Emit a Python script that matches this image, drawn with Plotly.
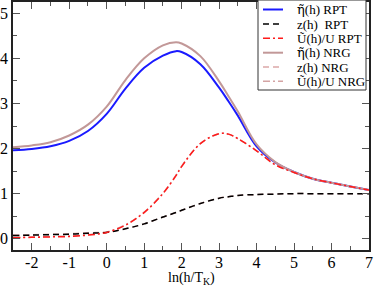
import plotly.graph_objects as go

x = [-2.5, -2.0, -1.5, -1.0, -0.5, 0.0, 0.5, 1.0, 1.5, 1.85, 2.0, 2.5, 3.0, 3.25, 3.5, 4.0, 4.5, 5.0, 5.5, 6.0, 6.5, 7.0]

eta_rpt = [1.96, 1.99, 2.05, 2.17, 2.39, 2.77, 3.33, 3.79, 4.06, 4.16, 4.14, 3.87, 3.35, 3.05, 2.73, 2.05, 1.69, 1.48, 1.33, 1.24, 1.16, 1.08]
z_rpt = [0.07, 0.08, 0.09, 0.10, 0.12, 0.14, 0.22, 0.33, 0.48, 0.58, 0.63, 0.78, 0.90, 0.93, 0.96, 0.98, 0.99, 1.00, 1.00, 1.00, 1.00, 1.00]
u_rpt = [0.02, 0.03, 0.04, 0.05, 0.08, 0.14, 0.30, 0.58, 1.00, 1.40, 1.60, 2.11, 2.33, 2.32, 2.22, 1.95, 1.64, 1.47, 1.33, 1.24, 1.16, 1.08]

eta_nrg = [2.03, 2.07, 2.14, 2.29, 2.53, 2.93, 3.52, 4.00, 4.29, 4.36, 4.33, 4.05, 3.49, 3.16, 2.82, 2.09, 1.70, 1.48, 1.33, 1.24, 1.16, 1.08]
z_nrg = [0.08, 0.09, 0.10, 0.11, 0.13, 0.15, 0.22, 0.33, 0.48, 0.58, 0.63, 0.78, 0.90, 0.93, 0.96, 0.98, 0.99, 1.00, 1.00, 1.00, 1.00, 1.00]
u_nrg = [0.03, 0.04, 0.05, 0.06, 0.09, 0.15, 0.31, 0.59, 1.01, 1.41, 1.61, 2.11, 2.33, 2.32, 2.22, 1.95, 1.64, 1.47, 1.33, 1.24, 1.16, 1.08]

names = ["η̃(h) RPT", "z(h)  RPT", "Ũ(h)/U RPT", "η̃(h) NRG", "z(h) NRG", "Ũ(h)/U NRG"]

x_ticks = [-2, -1, 0, 1, 2, 3, 4, 5, 6, 7]
x_ticktext = ["-2", "-1", "0", "1", "2", "3", "4", "5", "6", "7"]
y_ticks = [0, 1, 2, 3, 4, 5]
y_ticktext = ["0", "1", "2", "3", "4", "5"]

DASH = "6px,4px"
DASHDOT = "7px,3px,2px,3px"
series = [
    (eta_rpt, "#1a1aff", "solid", 2),
    (z_rpt, "#000000", DASH, 1.5),
    (u_rpt, "#ff1a1a", DASHDOT, 1.5),
    (eta_nrg, "#c29898", "solid", 2),
    (z_nrg, "#dba8a8", DASH, 1.5),
    (u_nrg, "#d4a4a4", DASHDOT, 1.5),
]
draw_order = [0, 3, 4, 5, 1, 2]

W, H = 374, 286
ML, MR, MT, MB = 13, 5, 2, 36
PW, PH = W - ML - MR, H - MT - MB


def px(xp):
    return (xp - ML) / PW


def py(yp):
    return (H - MB - yp) / PH


def label_html(name):
    # render the combining-tilde glyph in a font that positions the mark over its base letter
    if name.startswith("η̃"):
        return '<span style="font-family:DejaVu Serif">η̃</span>' + name[2:]
    return name


fig = go.Figure()
for i in draw_order:
    ys, col, dash, w = series[i]
    fig.add_trace(go.Scatter(x=x, y=ys, mode="lines", name=names[i], showlegend=False,
                             line=dict(color=col, dash=dash, width=w, shape="spline", smoothing=1.0)))

serif = "Liberation Serif"
axis_common = dict(
    showgrid=False, zeroline=False, showline=True, linecolor="#222222", linewidth=1.5,
    mirror="allticks", ticks="inside", ticklen=7, tickwidth=1, tickcolor="#555555",
    tickfont=dict(family=serif, size=16, color="black"), automargin=False,
    ticklabeloverflow="allow",
)
fig.update_xaxes(range=[-2.5, 7], tickvals=x_ticks, ticktext=x_ticktext, ticklabelstandoff=-3,
                 minor=dict(dtick=0.5, tick0=0, ticks="inside", ticklen=4, tickcolor="#555555", showgrid=False),
                 **axis_common)
fig.update_yaxes(range=[-0.25, 5.25], tickvals=y_ticks, ticktext=y_ticktext,
                 minor=dict(dtick=0.5, tick0=0, ticks="inside", ticklen=4, tickcolor="#555555", showgrid=False),
                 **axis_common)

shapes = []
annotations = []
# legend box
shapes.append(dict(type="rect", xref="paper", yref="paper", x0=px(258), x1=px(366), y0=py(90), y1=py(0),
                   line=dict(color="#333333", width=1), fillcolor="white", layer="above"))
row_y = [9.5, 24, 38.3, 52.7, 67, 81.3]
for (ys, col, dash, w), nm, ry in zip(series, names, row_y):
    shapes.append(dict(type="line", xref="paper", yref="paper", x0=px(263), x1=px(283), y0=py(ry), y1=py(ry),
                       line=dict(color=col, dash=dash, width=w), layer="above"))
    annotations.append(dict(text=label_html(nm), xref="paper", yref="paper", x=px(295), y=py(ry), xanchor="left",
                            yanchor="middle", showarrow=False, font=dict(family=serif, size=13, color="black")))
# x-axis title
annotations.append(dict(text="ln(h/T<sub>K</sub>)", xref="paper", yref="paper", x=0.5, y=py(278),
                        xanchor="center", yanchor="middle", showarrow=False,
                        font=dict(family=serif, size=14, color="black")))

fig.update_layout(
    width=W, height=H,
    margin=dict(l=ML, r=MR, t=MT, b=MB),
    paper_bgcolor="white", plot_bgcolor="white",
    showlegend=False,
    shapes=shapes, annotations=annotations,
)
fig.write_html("out.html", config={"displayModeBar": False},
               post_script="document.body.style.margin='0';document.body.style.padding='0';")
